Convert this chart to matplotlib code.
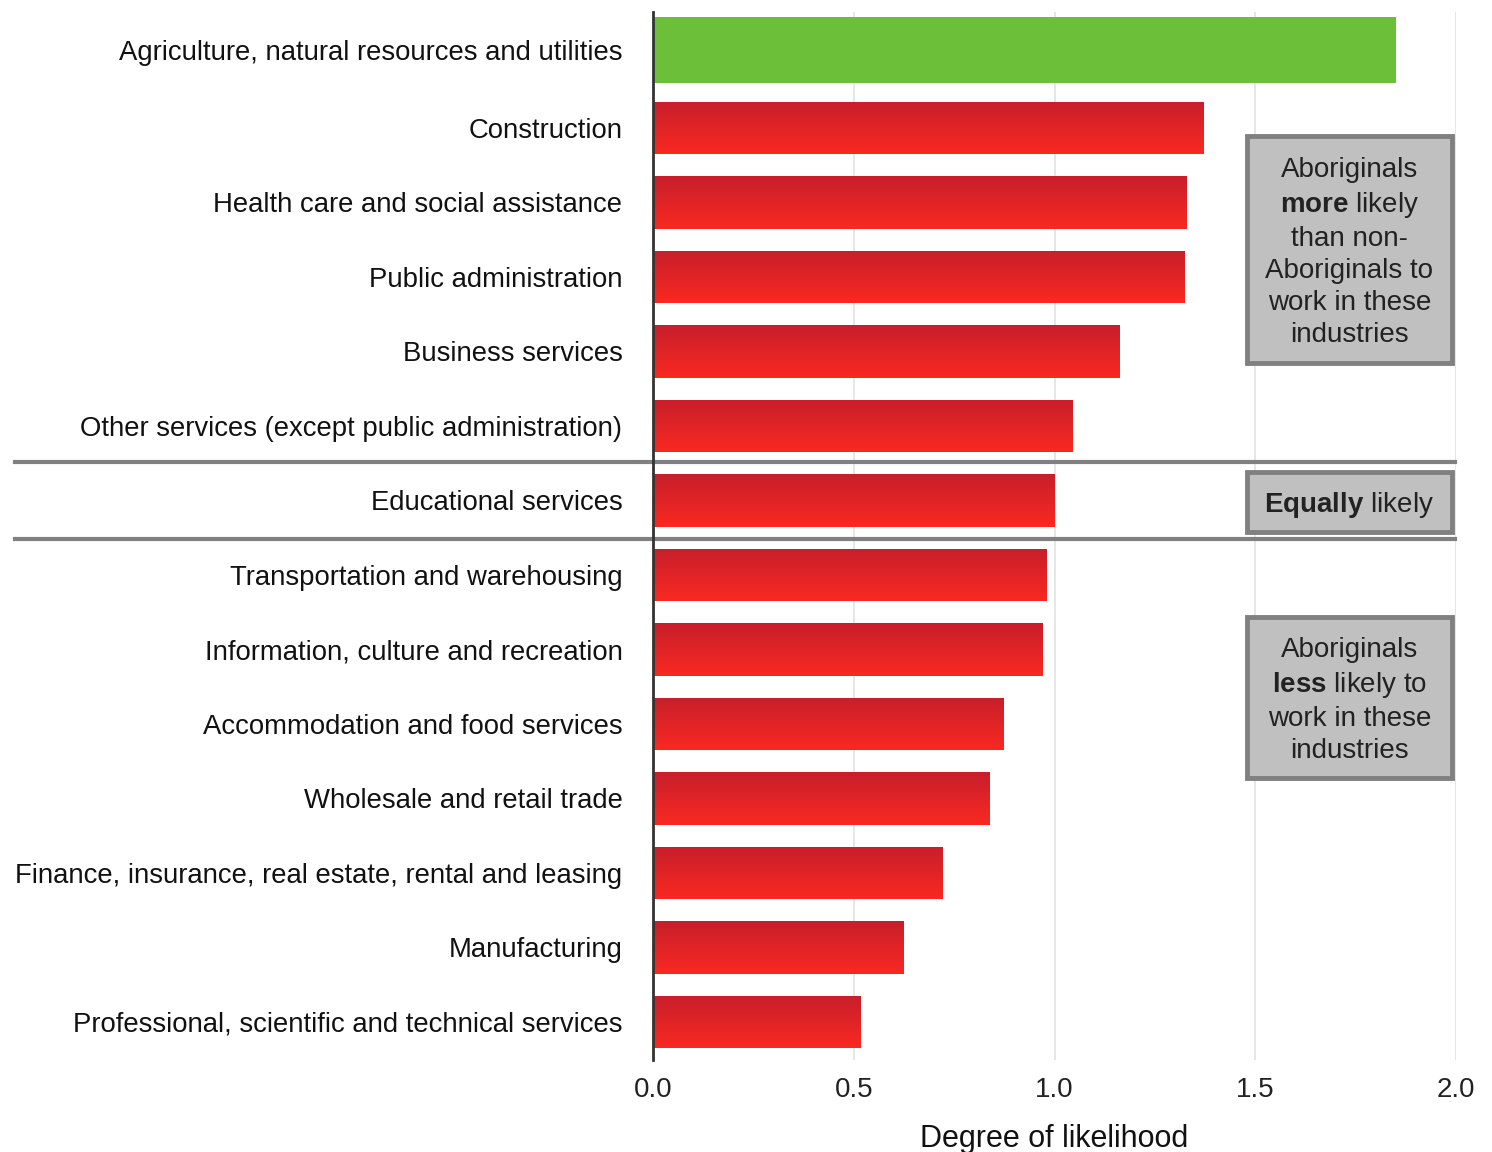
import matplotlib
matplotlib.use("Agg")
import matplotlib.pyplot as plt
from matplotlib.patches import Rectangle
import numpy as np

plt.rcParams['font.family'] = ['Liberation Sans', 'DejaVu Sans']
plt.rcParams['mathtext.fontset'] = 'custom'
plt.rcParams['mathtext.rm'] = 'Liberation Sans'
plt.rcParams['mathtext.bf'] = 'Liberation Sans:bold'

industries = [
    "Agriculture, natural resources and utilities",
    "Construction",
    "Health care and social assistance",
    "Public administration",
    "Business services",
    "Other services (except public administration)",
    "Educational services",
    "Transportation and warehousing",
    "Information, culture and recreation",
    "Accommodation and food services",
    "Wholesale and retail trade",
    "Finance, insurance, real estate, rental and leasing",
    "Manufacturing",
    "Professional, scientific and technical services",
]
likelihood = [1.85, 1.372, 1.33, 1.325, 1.163, 1.044, 1.0,
              0.98, 0.971, 0.874, 0.837, 0.722, 0.625, 0.516]
xticks = [0.0, 0.5, 1.0, 1.5, 2.0]

fig = plt.figure(figsize=(14.92, 11.52), dpi=100)
ax = fig.add_axes([0.4377, 0.0799, 0.5382, 0.9097])

pos = np.arange(len(industries)).astype(float)
pos[0] = -0.047
heights = [0.886] + [0.71] * (len(industries) - 1)
bars = ax.barh(pos, likelihood, height=heights, color='none', edgecolor='none', zorder=3)

# vertical gradient for red bars, flat green for the first
grad = np.linspace(0, 1, 256).reshape(-1, 1)
top = np.array([0.78, 0.12, 0.17])
bot = np.array([0.98, 0.16, 0.13])
img = top + (bot - top) * grad[..., None]
img = img.reshape(256, 1, 3)
for i, b in enumerate(bars):
    x0, y0 = b.get_x(), b.get_y()
    w, h = b.get_width(), b.get_height()
    if i == 0:
        ax.add_patch(Rectangle((x0, y0), w, h, facecolor='#6cbf38',
                               edgecolor='none', zorder=3))
        continue
    im = ax.imshow(img, extent=(x0, x0 + w, y0 + h, y0), aspect='auto',
                   zorder=3, interpolation='bilinear')
    im.set_clip_path(b)

ax.set_xlim(0, 2.0)
ax.set_ylim(13.51, -0.557)
ax.set_xticks(xticks)
ax.set_xticklabels([f"{t:.1f}" for t in xticks], fontsize=20, color='#222222')
ax.set_yticks(pos)
ax.set_yticklabels(industries, fontsize=19.8, color='#111111')
ax.tick_params(axis='both', length=0)
ax.tick_params(axis='x', pad=12)
ax.tick_params(axis='y', pad=22)
ax.grid(axis='x', color='#e2e2e2', linewidth=1.2, zorder=0)
ax.set_axisbelow(True)
for s in ['top', 'right', 'bottom']:
    ax.spines[s].set_visible(False)
ax.spines['left'].set_color('#333333')
ax.spines['left'].set_linewidth(2.0)
ax.spines['left'].set_zorder(5)

ax.set_xlabel("Degree of likelihood", fontsize=22, color='#111111')
ax.xaxis.set_label_coords(0.5, -0.061)

# separator lines around the "equal" group
for yy in [5.48, 6.52]:
    ax.axhline(yy, xmin=-0.794, xmax=0.999, color='#808080', linewidth=3,
               clip_on=False, zorder=4)

# annotation boxes
boxes = [
    (1.107, 4.154, "Aboriginals\n$\\mathbf{more}$ likely\nthan non-\nAboriginals to\nwork in these\nindustries"),
    (5.617, 6.423, "$\\mathbf{Equally}$ likely"),
    (7.56, 9.725, "Aboriginals\n$\\mathbf{less}$ likely to\nwork in these\nindustries"),
]
for y0, y1, txt in boxes:
    ax.add_patch(Rectangle((1.479, y0), 0.511, y1 - y0, facecolor='#c0c0c0',
                           edgecolor='#808080', linewidth=3.5, zorder=6))
    ax.text(1.7345, (y0 + y1) / 2 + 0.04, txt, ha='center', va='center', fontsize=20,
            linespacing=1.3, color='#222222', zorder=7)

fig.savefig("out.png", dpi=100)
